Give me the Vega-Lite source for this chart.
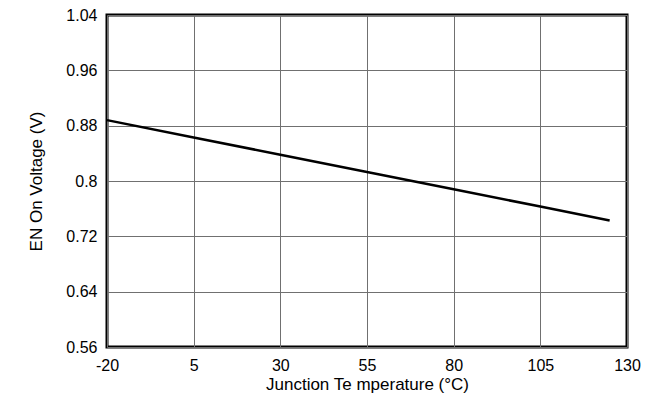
{
  "$schema": "https://vega.github.io/schema/vega-lite/v6.json",
  "width": 520,
  "height": 332,
  "autosize": {"type": "none"},
  "padding": {"left": 107, "top": 15, "right": 19, "bottom": 55},
  "background": "white",
  "config": {
    "view": {"stroke": "black", "strokeWidth": 3},
    "font": "Liberation Sans"
  },
  "data": {
    "values": [
      {"t": -20, "v": 0.888},
      {"t": 5, "v": 0.863},
      {"t": 30, "v": 0.838},
      {"t": 55, "v": 0.813},
      {"t": 80, "v": 0.788},
      {"t": 105, "v": 0.763},
      {"t": 125, "v": 0.743}
    ]
  },
  "mark": {"type": "line", "color": "black", "strokeWidth": 2.5},
  "encoding": {
    "x": {
      "field": "t",
      "type": "quantitative",
      "scale": {"domain": [-20, 130], "nice": false, "zero": false},
      "axis": {
        "values": [-20, 5, 30, 55, 80, 105, 130],
        "labelExpr": "'' + datum.value",
        "labelFlush": false,
        "labelOverlap": false,
        "title": "Junction Te mperature (°C)",
        "titleFont": "Liberation Sans",
        "titleFontSize": 17,
        "titleFontWeight": "normal",
        "titleColor": "black",
        "titlePadding": 3,
        "labelFont": "Liberation Sans",
        "labelFontSize": 16,
        "labelColor": "black",
        "labelPadding": 10,
        "ticks": false,
        "domain": false,
        "grid": true,
        "gridColor": "#707070",
        "gridWidth": 1,
        "gridOpacity": 1
      }
    },
    "y": {
      "field": "v",
      "type": "quantitative",
      "scale": {"domain": [0.56, 1.04], "nice": false, "zero": false},
      "axis": {
        "values": [0.56, 0.64, 0.72, 0.8, 0.88, 0.96, 1.04],
        "format": ".2~f",
        "labelFlush": false,
        "labelOverlap": false,
        "title": "EN On Voltage (V)",
        "titleFont": "Liberation Sans",
        "titleFontSize": 17,
        "titleFontWeight": "normal",
        "titleColor": "black",
        "titlePadding": 20,
        "labelFont": "Liberation Sans",
        "labelFontSize": 16,
        "labelColor": "black",
        "labelPadding": 10,
        "ticks": false,
        "domain": false,
        "grid": true,
        "gridColor": "#707070",
        "gridWidth": 1,
        "gridOpacity": 1
      }
    }
  }
}
